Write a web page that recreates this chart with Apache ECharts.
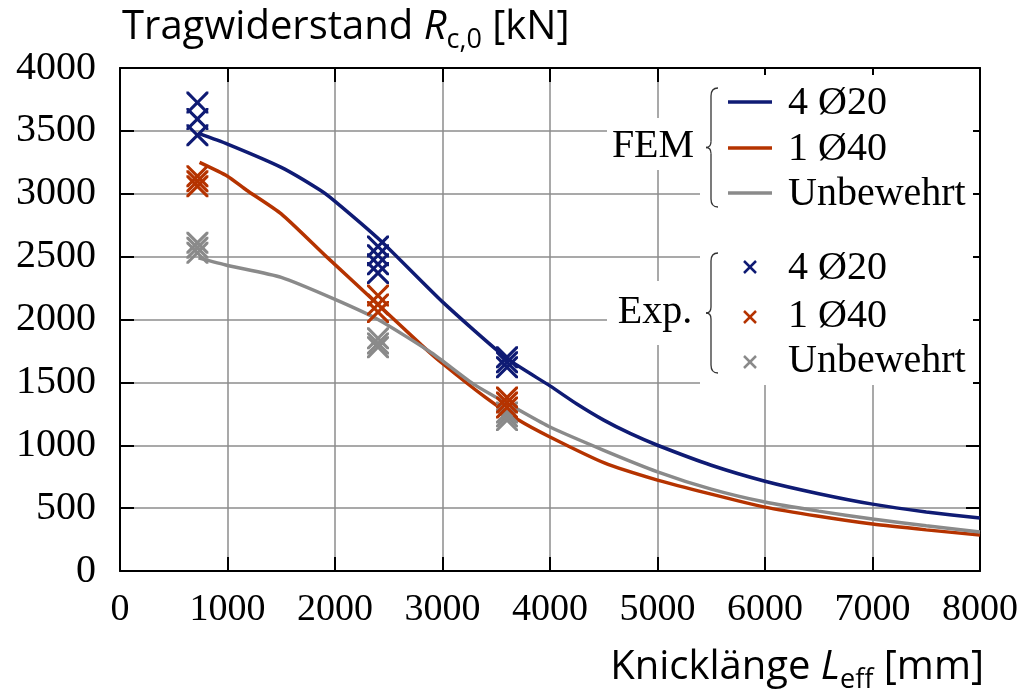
<!DOCTYPE html>
<html lang="de">
<head>
    <meta charset="UTF-8">
    <title>Tragwiderstand</title>
    <script type="text/javascript" src="https://cdn.jsdelivr.net/npm/echarts@6/dist/echarts.min.js"></script>
    <style>
        html, body { margin: 0; padding: 0; background: #fff; }
    </style>
</head>
<body>
    <div id="main" style="width: 1023px;height:699px;"></div>
    <script type="text/javascript">
        // Achsen-Ticks
        var xTicks = [0, 1000, 2000, 3000, 4000, 5000, 6000, 7000, 8000];
        var yTicks = [0, 500, 1000, 1500, 2000, 2500, 3000, 3500, 4000];

        // FEM-Kurven [Knicklaenge, Tragwiderstand]
        var fem4d20 = [[730, 3480], [1000, 3395], [1500, 3210], [1860, 3030], [2000, 2940],
            [2420, 2630], [3000, 2140], [3600, 1690], [4000, 1472], [4250, 1328], [4500, 1200],
            [4750, 1092], [5000, 1000], [5500, 841], [6000, 714], [6500, 615], [7000, 532], [7500, 470], [8000, 421]];
        var fem1d40 = [[740, 3250], [1000, 3140], [1175, 3030], [1500, 2840], [1920, 2500], [2400, 2120],
            [2800, 1800], [3000, 1650], [3400, 1380], [3700, 1205], [4000, 1066], [4500, 862],
            [5000, 723], [5500, 611], [6000, 508], [6500, 435], [7000, 373], [7500, 327], [8000, 286]];
        var femUnbew = [[730, 2490], [1000, 2430], [1500, 2335], [2000, 2160], [2400, 2000], [2900, 1734],
            [3300, 1480], [3720, 1276], [4000, 1145], [4500, 960], [5000, 789], [5500, 651],
            [6000, 548], [6500, 476], [7000, 413], [7500, 360], [8000, 310]];

        // Versuche
        var exp4d20 = [[720, 3725], [720, 3595], [720, 3465], [2400, 2580], [2400, 2510], [2400, 2440],
            [2400, 2370], [3600, 1700], [3600, 1660], [3600, 1620]];
        var exp1d40 = [[720, 3140], [720, 3100], [720, 3060], [2400, 2190], [2400, 2120], [2400, 2060],
            [3600, 1380], [3600, 1340], [3600, 1300]];
        var expUnbew = [[720, 2610], [720, 2570], [720, 2530], [2400, 1850], [2400, 1810], [2400, 1780],
            [3600, 1260], [3600, 1230], [3600, 1200]];

        var cBlue = '#0f1b74', cRed = '#b53300', cGray = '#8a8a8a';
        var sans = 'Open Sans';

        // Kreuz als Symbol
        var cross = 'path://M0,0 L2,0 L10,8 L18,0 L20,0 L20,2 L12,10 L20,18 L20,20 L18,20 L10,12 L2,20 L0,20 L0,18 L8,10 L0,2 Z';

        var myChart = echarts.init(document.getElementById('main'));

        function axisBase(pos, ticks, showGrid) {
            return {
                type: 'value',
                position: pos,
                min: ticks[0],
                max: ticks[ticks.length - 1],
                interval: ticks[1] - ticks[0],
                axisLine: { show: true, onZero: false, lineStyle: { color: '#000', width: 2 } },
                axisTick: { show: true, inside: true, length: 14, lineStyle: { color: '#000', width: 2 } },
                // Beschriftung kommt als graphic (Serifenschrift)
                axisLabel: { show: false },
                splitLine: { show: showGrid, lineStyle: { color: '#8c8c8c', width: 1.5 } }
            };
        }

        function legendCross(x, y, color) {
            return [
                { type: 'line', shape: { x1: x - 6, y1: y - 6, x2: x + 6, y2: y + 6 }, style: { stroke: color, lineWidth: 2.5 }, z: 11 },
                { type: 'line', shape: { x1: x - 6, y1: y + 6, x2: x + 6, y2: y - 6 }, style: { stroke: color, lineWidth: 2.5 }, z: 11 }
            ];
        }

        // geschweifte Klammer aus Kurven und Linien
        function brace(x, y1, y2) {
            var m = (y1 + y2) / 2;
            var st = { stroke: '#333', lineWidth: 1.3, fill: null };
            var b = x + 5;
            return [
                { type: 'bezierCurve', shape: { x1: x + 12, y1: y1, cpx1: b, cpy1: y1, x2: b, y2: y1 + 8 }, style: st, z: 11 },
                { type: 'line', shape: { x1: b, y1: y1 + 8, x2: b, y2: m - 6 }, style: st, z: 11 },
                { type: 'bezierCurve', shape: { x1: b, y1: m - 6, cpx1: b, cpy1: m, x2: x, y2: m }, style: st, z: 11 },
                { type: 'bezierCurve', shape: { x1: x, y1: m, cpx1: b, cpy1: m, x2: b, y2: m + 6 }, style: st, z: 11 },
                { type: 'line', shape: { x1: b, y1: m + 6, x2: b, y2: y2 - 8 }, style: st, z: 11 },
                { type: 'bezierCurve', shape: { x1: b, y1: y2 - 8, cpx1: b, cpy1: y2, x2: x + 12, y2: y2 }, style: st, z: 11 }
            ];
        }

        var txt = function (x, y, s, align, size) {
            return {
                type: 'text', x: x, y: y, z: 11,
                style: {
                    text: s, fill: '#000', font: (size || 40) + 'px "Liberation Serif"',
                    textAlign: align || 'left', textVerticalAlign: 'middle'
                }
            };
        };
        var rich = {
            a: { fontFamily: sans, fontSize: 40, lineHeight: 52, fill: '#000' },
            i: { fontFamily: sans, fontSize: 40, lineHeight: 52, fontStyle: 'italic', fill: '#000' },
            s: { fontFamily: sans, fontSize: 27, lineHeight: 25, verticalAlign: 'bottom', fill: '#000' }
        };

        var graphics = [
            { type: 'rect', shape: { x: 700, y: 75, width: 273, height: 310 }, style: { fill: '#fff' }, z: 10 },
            { type: 'rect', shape: { x: 607, y: 118, width: 93, height: 52 }, style: { fill: '#fff' }, z: 10 },
            { type: 'rect', shape: { x: 607, y: 281, width: 93, height: 64 }, style: { fill: '#fff' }, z: 10 },
            txt(653, 146, 'FEM', 'center'),
            txt(655, 312, 'Exp.', 'center'),
            { type: 'line', shape: { x1: 728, y1: 102, x2: 772, y2: 102 }, style: { stroke: cBlue, lineWidth: 3.5 }, z: 11 },
            { type: 'line', shape: { x1: 728, y1: 148, x2: 772, y2: 148 }, style: { stroke: cRed, lineWidth: 3.5 }, z: 11 },
            { type: 'line', shape: { x1: 728, y1: 193, x2: 772, y2: 193 }, style: { stroke: cGray, lineWidth: 3.5 }, z: 11 },
            txt(788, 103, '4 Ø20'),
            txt(788, 149, '1 Ø40'),
            txt(788, 194, 'Unbewehrt'),
            txt(788, 268, '4 Ø20'),
            txt(788, 316, '1 Ø40'),
            txt(788, 361, 'Unbewehrt'),
            {
                type: 'text', x: 122, y: 28,
                style: { text: '{a|Tragwiderstand }{i|R}{s|c,0}{a| [kN]}', textVerticalAlign: 'middle', rich: rich }
            },
            {
                type: 'text', x: 984, y: 668,
                style: { text: '{a|Knicklänge }{i|L}{s|eff}{a| [mm]}', textAlign: 'right', textVerticalAlign: 'middle', rich: rich }
            }
        ];
        graphics = graphics.concat(
            brace(706, 88, 207), brace(706, 253, 373),
            legendCross(750, 267, cBlue), legendCross(750, 317, cRed), legendCross(750, 362, cGray));

        var lineSeries = function (name, data, color) {
            return {
                name: name, type: 'line', data: data, smooth: 0.2, showSymbol: false,
                lineStyle: { color: color, width: 3.5 }, z: 3
            };
        };
        var expSeries = function (name, data, color) {
            return {
                name: name, type: 'scatter', data: data, symbol: cross, symbolSize: 22,
                itemStyle: { color: color, opacity: 1 }, z: 4
            };
        };

        var option = {
            animation: false,
            grid: { left: 120, right: 43, top: 68, bottom: 128 },
            xAxis: [axisBase('bottom', xTicks, true), axisBase('top', xTicks, false)],
            yAxis: [axisBase('left', yTicks, true), axisBase('right', yTicks, false)],
            graphic: graphics,
            series: [
                lineSeries('FEM 4 Ø20', fem4d20, cBlue),
                lineSeries('FEM 1 Ø40', fem1d40, cRed),
                lineSeries('FEM Unbewehrt', femUnbew, cGray),
                expSeries('Exp. Unbewehrt', expUnbew, cGray),
                expSeries('Exp. 1 Ø40', exp1d40, cRed),
                expSeries('Exp. 4 Ø20', exp4d20, cBlue)
            ]
        };

        myChart.setOption(option);

        // Tick-Beschriftung ueber die Achsenskala positionieren
        var tickLabels = [];
        xTicks.forEach(function (v) {
            var px = myChart.convertToPixel({ xAxisIndex: 0 }, v);
            tickLabels.push(txt(px, 610, String(v), 'center', 38));
        });
        yTicks.forEach(function (v) {
            var py = myChart.convertToPixel({ yAxisIndex: 0 }, v);
            tickLabels.push(txt(96, py, String(v), 'right', 40));
        });
        myChart.setOption({ graphic: graphics.concat(tickLabels) });
    </script>
</body>
</html>
